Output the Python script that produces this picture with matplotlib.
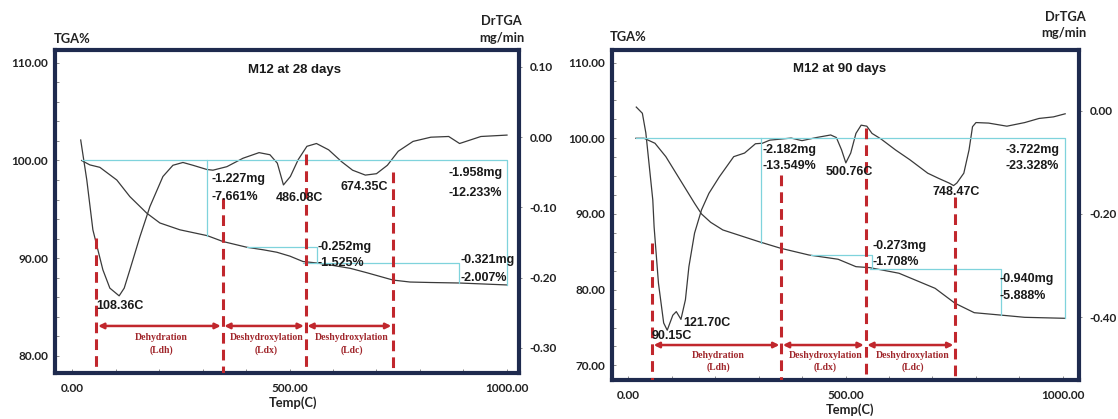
import matplotlib
matplotlib.use("Agg")
import matplotlib.pyplot as plt
from matplotlib.ticker import FixedLocator, MultipleLocator, FormatStrFormatter

plt.rcParams['axes.unicode_minus'] = False
plt.rcParams['font.family'] = ['Lato', 'DejaVu Sans']
plt.rcParams['font.weight'] = 'bold'

# ---------------- M12 at 28 days ----------------
tga28_temp = [22, 41, 64, 103, 133, 172, 202, 248, 311, 347, 402, 440, 471, 501, 531,
              563, 600, 640, 678, 710, 738, 777, 825, 890, 1000]
tga28_mass = [100.0, 99.55, 99.3, 98.0, 96.3, 94.6, 93.6, 92.9, 92.3, 91.7, 91.11, 90.85,
              90.6, 90.2, 89.65, 89.5, 89.25, 88.95, 88.5, 88.1, 87.75, 87.55, 87.5, 87.45, 87.25]
dtg28_temp = [20, 34, 48, 71, 87, 108.36, 120, 133, 156, 179, 209, 232, 255, 278, 310, 324,
              356, 393, 430, 455, 472, 486.08, 502, 520, 540, 562, 590, 620, 645, 674.35,
              700, 725, 750, 784, 825, 866, 891, 940, 1000]
dtg28_rate = [-0.004, -0.061, -0.132, -0.189, -0.215, -0.226, -0.215, -0.189, -0.142, -0.099,
              -0.056, -0.040, -0.036, -0.040, -0.046, -0.047, -0.042, -0.030, -0.022, -0.025,
              -0.037, -0.068, -0.056, -0.032, -0.013, -0.009, -0.018, -0.035, -0.047, -0.054,
              -0.052, -0.040, -0.020, -0.006, 0.000, 0.001, -0.009, 0.001, 0.003]
# step analysis: (start temp, end temp, level %, level % at end)
steps28 = [(22, 311, 100.0, 92.3), (311, 1000, 100.0, 87.25),
           (402, 563, 91.11, 89.5), (531, 890, 89.53, 87.45)]
bounds28 = [56, 346, 537, 738]

# ---------------- M12 at 90 days ----------------
tga90_temp = [18, 37, 62, 87, 120, 153, 169, 190, 218, 301, 351, 416, 483, 524, 556, 623,
              706, 752, 796, 854, 912, 1005]
tga90_mass = [100.0, 100.0, 99.34, 97.57, 94.49, 91.41, 90.0, 88.9, 87.89, 86.34, 85.47,
              84.58, 84.02, 83.04, 82.91, 82.17, 80.18, 78.2, 76.96, 76.66, 76.35, 76.22]
dtg90_temp = [19, 33, 41, 49, 57, 60, 70, 82, 90.15, 103, 111, 121.70, 132, 140, 153, 169,
              186, 210, 243, 268, 293, 309, 326, 351, 375, 400, 433, 466, 479, 491, 500.76,
              512, 524, 536, 549, 561, 582, 615, 648, 689, 714, 738, 748.47, 756, 772, 784,
              792, 800, 829, 871, 912, 945, 978, 1005]
dtg90_rate = [0.007, -0.005, -0.043, -0.108, -0.173, -0.225, -0.334, -0.411, -0.425, -0.396,
              -0.389, -0.404, -0.366, -0.302, -0.237, -0.192, -0.160, -0.128, -0.089, -0.082,
              -0.064, -0.063, -0.057, -0.055, -0.053, -0.058, -0.052, -0.047, -0.052, -0.076,
              -0.101, -0.082, -0.044, -0.028, -0.030, -0.044, -0.055, -0.076, -0.095, -0.121,
              -0.131, -0.140, -0.145, -0.140, -0.121, -0.076, -0.031, -0.023, -0.024, -0.030,
              -0.023, -0.015, -0.012, -0.006]
steps90 = [(18, 305, 100.0, 86.2), (305, 1005, 100.0, 76.22),
           (421, 561, 84.58, 82.91), (556, 857, 82.7, 76.66)]
bounds90 = [55, 352, 546, 752]

stages = [("Dehydration", "(Ldh)"), ("Deshydroxylation", "(Ldx)"), ("Deshydroxylation", "(Ldc)")]

NAVY = '#1e2a4e'
CYAN = '#7fd3dc'
RED = '#c1272d'
DARKRED = '#a0262b'
CURVE = '#3a3a3a'

W, H = 1118, 419
fig = plt.figure(figsize=(W / 100, H / 100), dpi=100)


def fx(x):
    return x / W


def fy(y):
    return 1 - y / H


def panel(rect, xlim, ylim_tga, ylim_dtg, tga_major, tga_minor, dtg_major, title, title_at,
          tga_t, tga_m, dtg_t, dtg_r, steps, bounds, tops, arrow_lvl, stage_lvls, notes):
    ax = fig.add_axes(rect)
    ax2 = ax.twinx()
    ax.set_zorder(ax2.get_zorder() + 1)
    ax.patch.set_visible(False)

    ax.set_xlim(*xlim)
    ax.set_ylim(*ylim_tga)
    ax2.set_ylim(*ylim_dtg)

    ax2.plot(dtg_t, dtg_r, color=CURVE, lw=0.9)
    ax.plot(tga_t, tga_m, color=CURVE, lw=0.9)

    for t0, t1, lvl, end in steps:
        ax.plot([t0, t1, t1], [lvl, lvl, end], color=CYAN, lw=0.9)

    for b, top in zip(bounds, tops):
        ax.plot([b, b], [top, ylim_tga[0]], color=RED, lw=2.2, dashes=(3.5, 2),
                solid_capstyle='butt', zorder=4)

    gap = 4
    for i, (name, code) in enumerate(stages):
        b0, b1 = bounds[i], bounds[i + 1]
        ax.annotate('', xy=(b1 - gap, arrow_lvl), xytext=(b0 + gap, arrow_lvl),
                    arrowprops=dict(arrowstyle='<|-|>', color=RED, lw=1.8,
                                    mutation_scale=8, shrinkA=0, shrinkB=0), zorder=5)
        mid = (b0 + b1) / 2 + 5
        ax.text(mid, stage_lvls[0], name, ha='center', va='center', color=DARKRED,
                family='Liberation Serif', fontweight='bold', fontsize=7)
        ax.text(mid, stage_lvls[1], code, ha='center', va='center', color=DARKRED,
                family='Liberation Serif', fontweight='bold', fontsize=7)

    for txt, t, m, ha in notes:
        ax.text(t, m, txt, ha=ha, va='center', color='#1a1a1a',
                family='Liberation Sans', fontweight='bold', fontsize=9, zorder=6)

    ax.text(title_at[0], title_at[1], title, ha='center', va='center', color='#1a1a1a',
            family='Liberation Sans', fontweight='bold', fontsize=9.5)

    # axes frame and ticks
    for s in ax.spines.values():
        s.set_color(NAVY)
        s.set_linewidth(3)
    for s in ax2.spines.values():
        s.set_visible(False)

    ax.xaxis.set_major_locator(FixedLocator([0, 500, 1000]))
    ax.xaxis.set_minor_locator(MultipleLocator(100))
    ax.xaxis.set_major_formatter(FormatStrFormatter('%.2f'))
    ax.yaxis.set_major_locator(FixedLocator(tga_major))
    ax.yaxis.set_minor_locator(MultipleLocator(tga_minor))
    ax.yaxis.set_major_formatter(FormatStrFormatter('%.2f'))
    ax2.yaxis.set_major_locator(FixedLocator(dtg_major))
    ax2.yaxis.set_major_formatter(FormatStrFormatter('%.2f'))

    ax.tick_params(which='both', direction='in', length=3, width=0.6, color='#777777',
                   labelsize=8.5, labelcolor='#222222')
    ax.tick_params(axis='x', pad=7)
    ax.tick_params(axis='y', pad=5)
    ax2.tick_params(direction='out', length=2.5, width=0.6, color='#777777', pad=5,
                    labelsize=8.5, labelcolor='#222222')
    return ax


panel([fx(55), fy(373), fx(519 - 55), (373 - 50) / H], (-39.1, 1027.6), (78.23, 111.32),
      (-0.3359, 0.1242), [80, 90, 100, 110], 2, [-0.3, -0.2, -0.1, 0.0, 0.1],
      "M12 at 28 days", (512.6, 109.3),
      tga28_temp, tga28_mass, dtg28_temp, dtg28_rate, steps28, bounds28,
      [92.1, 96.2, 100.7, 98.85], 83.05, (81.9, 80.56),
      [("108.36C", 55, 85.09, 'left'),
       ("-1.227mg", 321, 98.1, 'left'), ("-7.661%", 321, 96.29, 'left'),
       ("486.08C", 523, 96.13, 'center'), ("674.35C", 672, 97.26, 'center'),
       ("-1.958mg", 866, 98.69, 'left'), ("-12.233%", 866, 96.7, 'left'),
       ("-0.252mg", 565, 91.16, 'left'), ("-1.525%", 565, 89.47, 'left'),
       ("-0.321mg", 894, 89.8, 'left'), ("-2.007%", 894, 87.99, 'left')])

panel([fx(612), fy(380), fx(1079 - 612), (380 - 50) / H], (-36.8, 1036.8), (68.07, 111.66),
      (-0.5214, 0.1175), [70, 80, 90, 100, 110], 2.5, [-0.4, -0.2, 0.0],
      "M12 at 90 days", (486.4, 109.1),
      tga90_temp, tga90_mass, dtg90_temp, dtg90_rate, steps90, bounds90,
      [86.2, 95.15, 101.4, 92.25], 72.69, (71.3, 69.8),
      [("90.15C", 55, 73.88, 'left'), ("121.70C", 128, 75.56, 'left'),
       ("-2.182mg", 309, 98.45, 'left'), ("-13.549%", 309, 96.38, 'left'),
       ("500.76C", 509, 95.59, 'center'), ("748.47C", 754, 92.95, 'center'),
       ("-3.722mg", 867, 98.45, 'left'), ("-23.328%", 867, 96.38, 'left'),
       ("-0.273mg", 563, 85.81, 'left'), ("-1.708%", 563, 83.7, 'left'),
       ("-0.940mg", 855, 81.41, 'left'), ("-5.888%", 855, 79.2, 'left')])

# axis headings
head = dict(fontsize=9.3, fontweight='bold', color='#222222')
fig.text(fx(54), fy(39), "TGA%", ha='left', va='center', **head)
fig.text(fx(522), fy(21), "DrTGA", ha='right', va='center', **head)
fig.text(fx(524), fy(38), "mg/min", ha='right', va='center', **head)
fig.text(fx(293), fy(403), "Temp(C)", ha='center', va='center', **head)
fig.text(fx(610), fy(37), "TGA%", ha='left', va='center', **head)
fig.text(fx(1086), fy(17), "DrTGA", ha='right', va='center', **head)
fig.text(fx(1087), fy(33), "mg/min", ha='right', va='center', **head)
fig.text(fx(850), fy(410), "Temp(C)", ha='center', va='center', **head)

fig.savefig("out.png", dpi=100)
